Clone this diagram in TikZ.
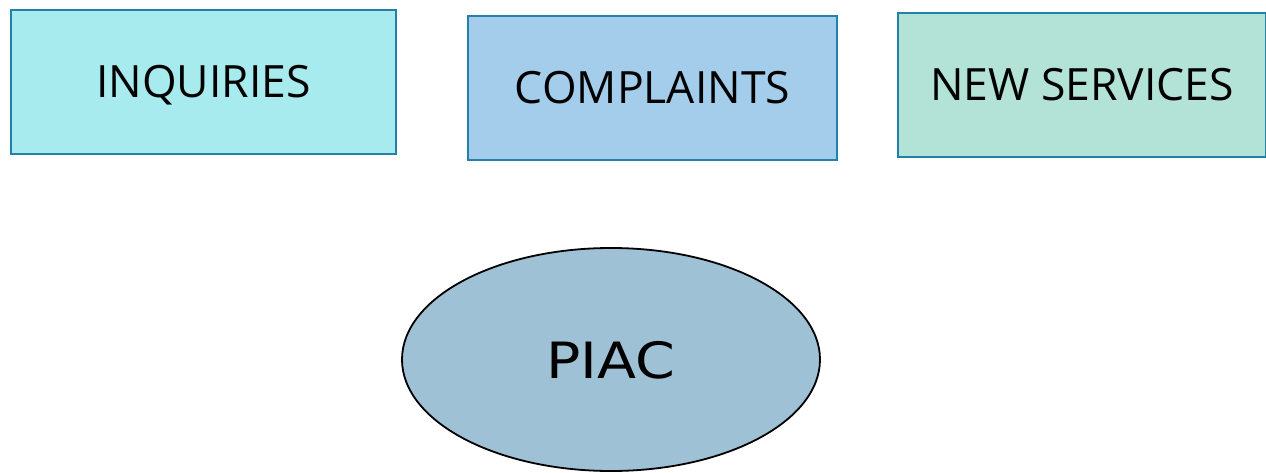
\documentclass[tikz,border=0pt]{standalone}
\usepackage{fontspec}
\setmainfont{Open Sans}
\newfontfamily\piacfont[FakeStretch=1.14]{DejaVu Sans}
\usetikzlibrary{shapes.geometric}
\definecolor{edgeblue}{HTML}{2181A8}
\definecolor{fillA}{HTML}{A8EBEF}
\definecolor{fillB}{HTML}{A3CDEB}
\definecolor{fillC}{HTML}{B3E2D6}
\definecolor{fillP}{HTML}{9FC1D5}
\tikzset{
  catbox/.style={draw=edgeblue, line width=2pt, rectangle, inner sep=0pt,
    minimum height=144pt, text height=32pt, text depth=0pt,
    font=\fontsize{44.5}{50}\selectfont},
  hub/.style={draw=black, line width=1.8pt, ellipse, inner sep=0pt, fill=fillP,
    minimum width=418pt, minimum height=223pt, text height=37pt, text depth=0pt,
    font=\piacfont\fontsize{50}{56}\selectfont}
}
\begin{document}
\begin{tikzpicture}[x=1pt,y=-1pt]
\useasboundingbox (0,0) rectangle (1266,473);
\node[catbox, fill=fillA, minimum width=385pt] (inq) at (203.5,82) {INQUIRIES};
\node[catbox, fill=fillB, minimum width=369pt] (comp) at (652.5,88) {COMPLAINTS};
\node[catbox, fill=fillC, minimum width=368pt] (news) at (1082,85) {NEW SERVICES};
\node[hub] (piac) at (611,359.5) {PIAC};
\end{tikzpicture}
\end{document}
